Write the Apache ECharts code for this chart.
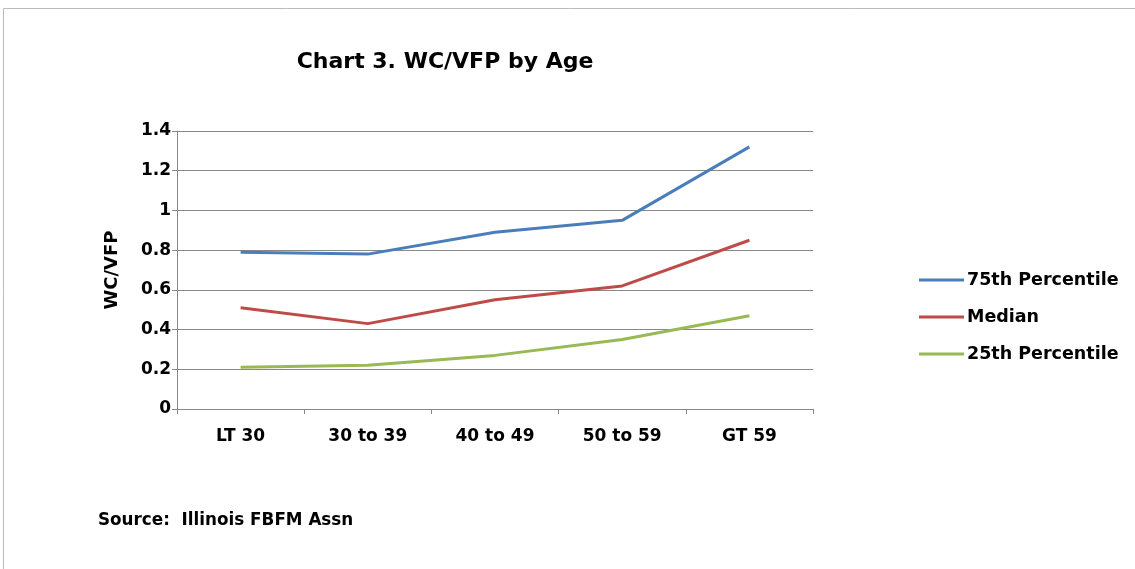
<!DOCTYPE html>
<html>
<head>
<meta charset="utf-8">
<script src="https://cdn.jsdelivr.net/npm/echarts@6/dist/echarts.min.js"></script>
<style>
html,body{margin:0;padding:0;background:#fff;}
#c{width:1135px;height:569px;}
</style>
</head>
<body>
<div id="c"></div>
<script>
const categories = ['LT 30', '30 to 39', '40 to 49', '50 to 59', 'GT 59'];
const p75 = [0.79, 0.78, 0.89, 0.95, 1.32];
const median = [0.51, 0.43, 0.55, 0.62, 0.85];
const p25 = [0.21, 0.22, 0.27, 0.35, 0.47];
const seriesNames = ['75th Percentile', 'Median', '25th Percentile'];
const colors = ['#4A7EBB', '#BE4B48', '#98B954'];

const font = '"DejaVu Sans", "Liberation Sans", Arial, sans-serif';
const chart = echarts.init(document.getElementById('c'), null, {renderer: 'canvas'});
const mk = (name, data, color) => ({
  name: name, type: 'line', data: data, symbol: 'none',
  lineStyle: {color: color, width: 3}, itemStyle: {color: color}
});
chart.setOption({
  animation: false,
  backgroundColor: '#fff',
  color: colors,
  title: {
    text: 'Chart 3. WC/VFP by Age',
    left: 440, top: 46, textAlign: 'center',
    textStyle: {fontFamily: font, fontWeight: 'bold', fontSize: 22, color: '#000'}
  },
  legend: {
    orient: 'vertical', left: 914, top: 266, itemGap: 19,
    itemWidth: 45, itemHeight: 3, icon: 'rect',
    textStyle: {fontFamily: font, fontWeight: 'bold', fontSize: 17.5, color: '#000', padding: [0, 0, 0, -2]},
    data: seriesNames
  },
  grid: {left: 177, right: 322, top: 131, bottom: 160},
  xAxis: {
    type: 'category', data: categories, boundaryGap: true,
    axisLine: {lineStyle: {color: '#888', width: 1}},
    axisTick: {show: true, length: 5, lineStyle: {color: '#888'}},
    axisLabel: {fontFamily: font, fontWeight: 'bold', fontSize: 17, color: '#000', margin: 19}
  },
  yAxis: {
    type: 'value', min: 0, max: 1.4, interval: 0.2,
    name: 'WC/VFP', nameLocation: 'middle', nameGap: 56, nameRotate: 90,
    nameTextStyle: {fontFamily: font, fontWeight: 'bold', fontSize: 18, color: '#000'},
    axisLine: {show: true, lineStyle: {color: '#888'}},
    axisTick: {show: true, length: 5, lineStyle: {color: '#888'}},
    splitLine: {lineStyle: {color: '#888', width: 1}},
    axisLabel: {fontFamily: font, fontWeight: 'bold', fontSize: 17, color: '#000', margin: 6,
      formatter: v => String(Math.round(v * 10) / 10)}
  },
  graphic: [
    {type: 'rect', shape: {x: 3.5, y: 8.5, width: 1200, height: 600},
     style: {fill: 'none', stroke: '#BBBBBB', lineWidth: 1}, z: -1},
    {type: 'text', left: 98, top: 512,
     style: {text: 'Source:  Illinois FBFM Assn', fontFamily: font, fontWeight: 'bold', fontSize: 16.8, fill: '#000'}}
  ],
  series: [
    mk(seriesNames[0], p75, colors[0]),
    mk(seriesNames[1], median, colors[1]),
    mk(seriesNames[2], p25, colors[2])
  ]
});
</script>
</body>
</html>
